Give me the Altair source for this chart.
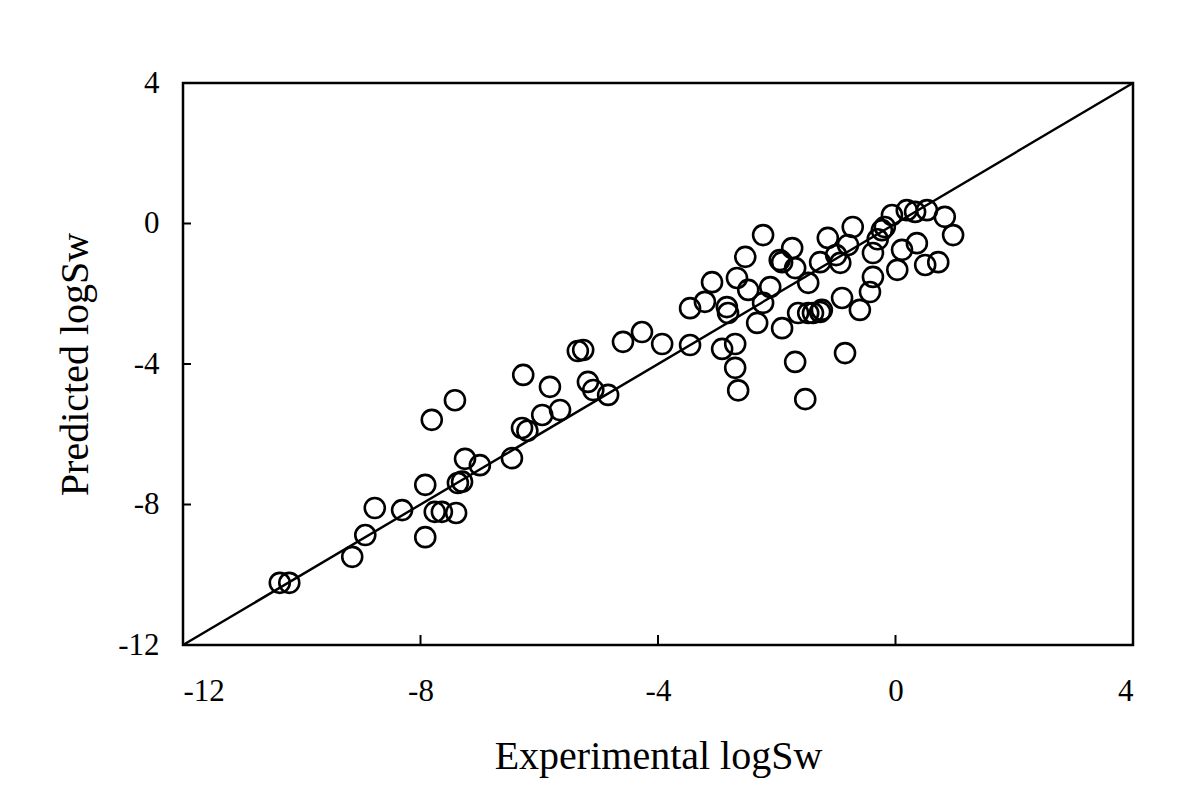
import altair as alt
import pandas as pd

# Experimental vs predicted logSw
exp_vals = [
    -10.37, -10.21, -9.15, -8.93, -8.77, -8.31, -7.92, -7.92, -7.76, -7.64,
    -7.40, -7.81, -7.42, -7.37, -7.30, -7.25, -7.00, -6.46, -6.29, -6.20,
    -5.95, -5.65, -6.27, -5.82, -5.26, -5.35, -5.18, -5.09, -4.84, -4.59,
    -4.27, -3.93,
    -3.46, -3.46, -3.21, -3.09, -2.92, -2.70, -2.70, -2.65, -2.82, -2.67,
    -2.53, -2.23, -2.48, -2.33, -2.23, -2.11, -1.91, -1.95, -1.74, -1.69,
    -1.64, -1.69, -1.52, -1.39, -1.24, -1.27, -1.47, -1.14, -0.93, -0.90,
    -0.85, -0.80, -0.72, -0.60, -0.43, -0.38, -0.38, -0.18, -0.06, 0.11,
    0.03, 0.19, 0.36, 0.50, 0.72, 0.83, 0.97, 0.53, 0.33, -0.30,
    -1.91, -2.84, -0.23, -1.27, -1.47, -1.00,
]
pred_vals = [
    -10.23, -10.23, -9.49, -8.87, -8.10, -8.16, -7.44, -8.93, -8.21, -8.21,
    -8.24, -5.59, -5.03, -7.39, -7.35, -6.70, -6.88, -6.68, -5.82, -5.90,
    -5.45, -5.31, -4.31, -4.65, -3.60, -3.63, -4.51, -4.74, -4.88, -3.37,
    -3.09, -3.43,
    -3.46, -2.41, -2.23, -1.67, -3.57, -3.43, -4.11, -4.75, -2.55, -1.55,
    -0.95, -0.33, -1.89, -2.83, -2.26, -1.81, -2.98, -1.04, -0.70, -1.27,
    -2.55, -3.94, -5.00, -2.55, -2.46, -1.10, -1.69, -0.41, -1.12, -2.12,
    -3.69, -0.61, -0.10, -2.46, -1.95, -1.52, -0.84, -0.10, 0.24, -0.75,
    -1.32, 0.38, -0.56, -1.18, -1.10, 0.19, -0.33, 0.38, 0.33, -0.45,
    -1.10, -2.38, -0.19, -2.52, -2.55, -0.90,
]

axis_ticks = [-12, -8, -4, 0, 4]
inner_ticks = [-8, -4, 0]
line_ends = [-12, 4]

pts = pd.DataFrame({"exp": exp_vals, "pred": pred_vals})
line_df = pd.DataFrame({"exp": line_ends, "pred": line_ends})
tick_df = pd.DataFrame({"v": inner_ticks})

W, H = 950, 562
FONT = "Liberation Serif"

xscale = alt.Scale(domain=[-12, 4], nice=False, zero=False)
yscale = alt.Scale(domain=[-12, 4], nice=False, zero=False)

xaxis = alt.Axis(values=axis_ticks, title="Experimental logSw",
                 labelExpr="toString(datum.value)",
                 labelPadding=31, titlePadding=30)
yaxis = alt.Axis(values=axis_ticks, title="Predicted logSw",
                 labelExpr="toString(datum.value)",
                 labelPadding=24, titlePadding=22)

X = alt.X("exp:Q", scale=xscale, axis=xaxis)
Y = alt.Y("pred:Q", scale=yscale, axis=yaxis)

diag = alt.Chart(line_df).mark_line(color="black", strokeWidth=2.4).encode(x=X, y=Y)

points = alt.Chart(pts).mark_point(
    shape="circle", filled=False, size=400, strokeWidth=2.6, color="black", opacity=1
).encode(x=X, y=Y)

xt = alt.Chart(tick_df).mark_rule(color="black", strokeWidth=2).encode(
    x=alt.X("v:Q", scale=xscale, axis=xaxis), y=alt.value(H), y2=alt.value(H - 10)
)
yt = alt.Chart(tick_df).mark_rule(color="black", strokeWidth=2).encode(
    y=alt.Y("v:Q", scale=yscale, axis=yaxis), x=alt.value(0), x2=alt.value(8)
)

chart = alt.layer(diag, points, xt, yt).properties(
    width=W, height=H,
    autosize=alt.AutoSizeParams(type="none"),
    padding={"left": 175, "top": 75, "right": 40, "bottom": 145},
    background="white",
).configure_view(
    stroke="black", strokeWidth=2.5
).configure_axis(
    grid=False, domain=False, ticks=False,
    labelFontSize=31, titleFontSize=40, labelFont=FONT, titleFont=FONT,
    labelColor="black", titleColor="black", titleFontWeight="normal",
)

chart.save("out.html", embed_options={"renderer": "svg", "actions": False})
